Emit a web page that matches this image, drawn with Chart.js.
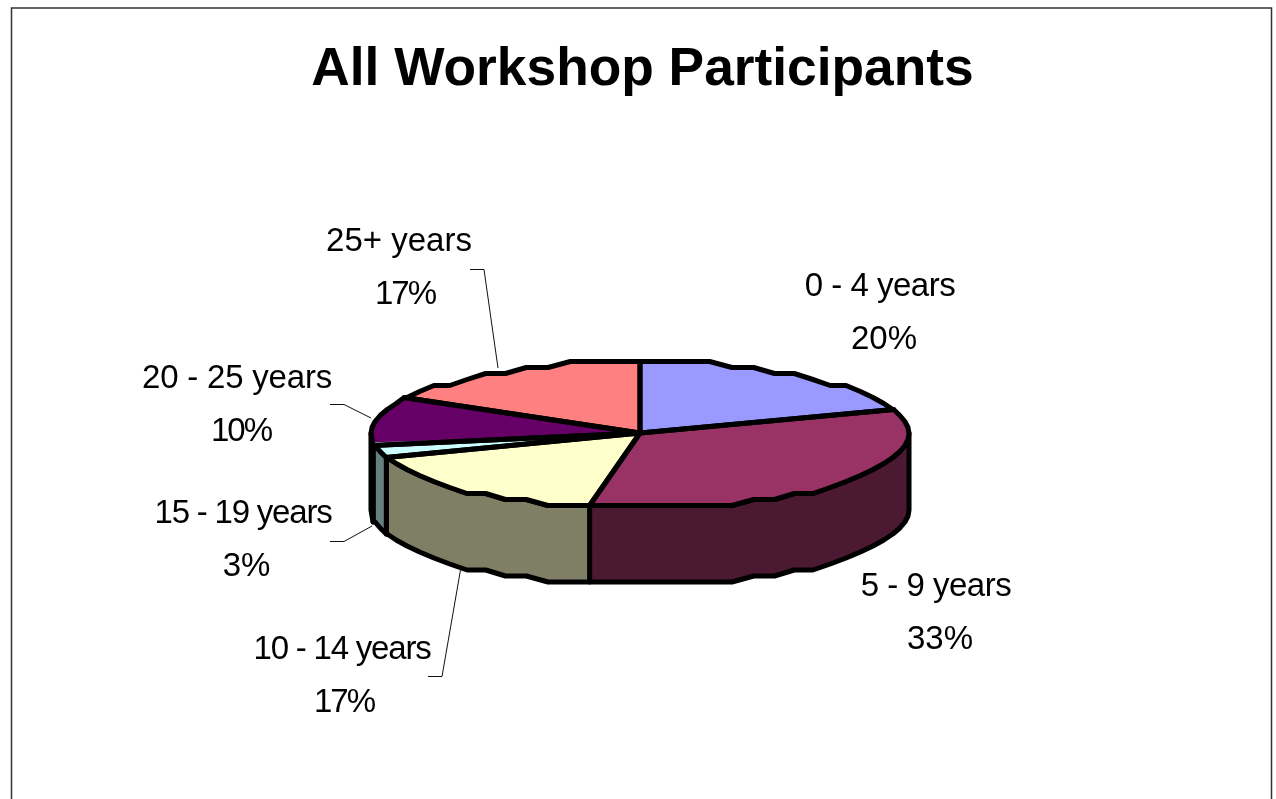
<!DOCTYPE html>
<html>
<head>
<meta charset="utf-8">
<style>html,body{margin:0;padding:0;background:#fff;overflow:hidden}canvas{display:block}</style>
<script src="https://cdn.jsdelivr.net/npm/chart.js@4/dist/chart.umd.min.js"></script>
</head>
<body>
<canvas id="c" width="1276" height="799"></canvas>
<script>
const titleText = 'All Workshop Participants';
const categories = ['0 - 4 years','5 - 9 years','10 - 14 years','15 - 19 years','20 - 25 years','25+ years'];
const shares = [19.6,33.4,16.6,3.4,10,17];
const topColors = ['#9999FF','#993366','#FFFFCC','#CCFFFF','#660066','#FF8080'];
const sideColors = ['#4C4C7F','#4C1933','#7F7F66','#667F7F','#330033','#7F4040'];

// Label placement (page layout only, not data): name centre x, name y, percent centre x, percent y
const labelBoxes = [[880,286.5,884,339.5],[936,586.5,940,639.5],[342,649.5,344,702.5],[243,513.5,246.5,566.5],[237,378.5,241,431.5],[399,241.5,405,294.5]];
// Tracking per label: name line, percent line
const labelTracking = [[-0.5,0],[-0.5,0],[-1.2,-2],[-1.2,0],[-0.2,-2],[0,-2]];
// Leader lines, by category index
const leaders = {
  2:[[428,676.5],[442,676.5],[461,567]],
  3:[[330,541.5],[344,541.5],[372,526]],
  4:[[330,404.5],[344,404.5],[371,418]],
  5:[[470,269.5],[484,269.5],[498,368]]
};
const SQUASH = 0.272, DEPTH = 76.5, LW = 5, JAG_Y = 6, JAG_DEG = 5;

function jagPoint(el, a, dy){
  const r = el.outerRadius;
  const x = el.x + r*Math.cos(a);
  const y = el.y + r*SQUASH*Math.sin(a);
  return [x, Math.round(y/JAG_Y)*JAG_Y + 1.5 + dy];
}
function rimPoints(el, a0, a1, dy){
  const step = JAG_DEG*Math.PI/180, pts = [jagPoint(el,a0,dy)];
  let k = Math.floor(a0/step)+1;
  while(k*step < a1){ pts.push(jagPoint(el,k*step,dy)); k++; }
  pts.push(jagPoint(el,a1,dy));
  return pts;
}
function trace(ctx, pts){
  ctx.beginPath();
  pts.forEach((p,i)=> i ? ctx.lineTo(p[0],p[1]) : ctx.moveTo(p[0],p[1]));
  ctx.closePath();
}
function slicePoly(el){
  return [[el.x,el.y]].concat(rimPoints(el, el.startAngle, el.endAngle, 0));
}
const pie3d = {
  id:'pie3d',
  beforeDraw(chart){
    const c = chart.ctx;
    c.save();
    c.fillStyle='#fff'; c.fillRect(0,0,chart.width,chart.height);
    c.strokeStyle='#333'; c.lineWidth=1.5;
    c.strokeRect(11.5,8,1260,830);
    c.restore();
  },
  beforeDatasetsDraw(chart){
    const c = chart.ctx, arcs = chart.getDatasetMeta(0).data;
    c.save();
    c.lineJoin='round'; c.lineCap='round'; c.lineWidth=LW; c.strokeStyle='#000';
    // extruded rim: only the part facing the viewer
    arcs.forEach((el,i)=>{
      const a0 = Math.max(el.startAngle,0), a1 = Math.min(el.endAngle,Math.PI);
      if(a1<=a0) return;
      const top = rimPoints(el,a0,a1,0), bot = rimPoints(el,a0,a1,DEPTH).reverse();
      trace(c, top.concat(bot));
      c.fillStyle = sideColors[i]; c.fill(); c.stroke();
    });
    // base fill, then clip the library's arcs to the same faceted outline
    arcs.forEach(el=>{ trace(c,slicePoly(el)); c.fillStyle=el.options.backgroundColor; c.fill(); });
    c.beginPath();
    arcs.forEach(el=>{ const p=slicePoly(el); p.forEach((q,i)=> i? c.lineTo(q[0],q[1]):c.moveTo(q[0],q[1])); c.closePath(); });
    c.clip();
    const el0 = arcs[0];
    c.translate(el0.x,el0.y); c.scale(1,SQUASH); c.translate(-el0.x,-el0.y);
  },
  afterDatasetsDraw(chart){
    const c = chart.ctx, arcs = chart.getDatasetMeta(0).data;
    c.restore();
    c.save();
    c.lineJoin='round'; c.lineCap='round'; c.lineWidth=LW; c.strokeStyle='#000';
    arcs.forEach(el=>{ trace(c,slicePoly(el)); c.stroke(); });
    c.lineWidth=1; c.lineCap='butt'; c.lineJoin='miter'; c.strokeStyle='#111';
    Object.values(leaders).forEach(pts=>{
      c.beginPath();
      pts.forEach((p,i)=> i? c.lineTo(p[0],p[1]):c.moveTo(p[0],p[1]));
      c.stroke();
    });
    c.fillStyle='#000'; c.textAlign='center'; c.textBaseline='middle';
    c.font='33px "Liberation Sans", Arial, sans-serif';
    const total = shares.reduce((a,b)=>a+b,0);
    categories.forEach((name,i)=>{
      const b = labelBoxes[i], t = labelTracking[i];
      c.letterSpacing = t[0]+'px';
      c.fillText(name,b[0],b[1]);
      c.letterSpacing = t[1]+'px';
      c.fillText(Math.round(shares[i]/total*100)+'%',b[2],b[3]);
    });
    c.restore();
  },
  afterLayout(chart){
    // Title sits a little right of the canvas centre
    chart.titleBlock.left += 2.5; chart.titleBlock.right += 2.5;
  }
};
new Chart(document.getElementById('c'),{
  type:'pie',
  data:{labels:categories,datasets:[{data:shares,backgroundColor:topColors,borderWidth:0}]},
  options:{
    responsive:false,animation:false,rotation:0,events:[],
    layout:{padding:{left:4,right:0,top:0,bottom:97}},
    plugins:{
      legend:{display:false},tooltip:{enabled:false},
      title:{display:true,text:titleText,color:'#000',
        font:{family:'"Liberation Sans", Arial, sans-serif',size:53.3,weight:'bold',lineHeight:1.2},
        padding:{top:38.5,bottom:61.5}}
    }
  },
  plugins:[pie3d]
});
</script>
</body>
</html>
